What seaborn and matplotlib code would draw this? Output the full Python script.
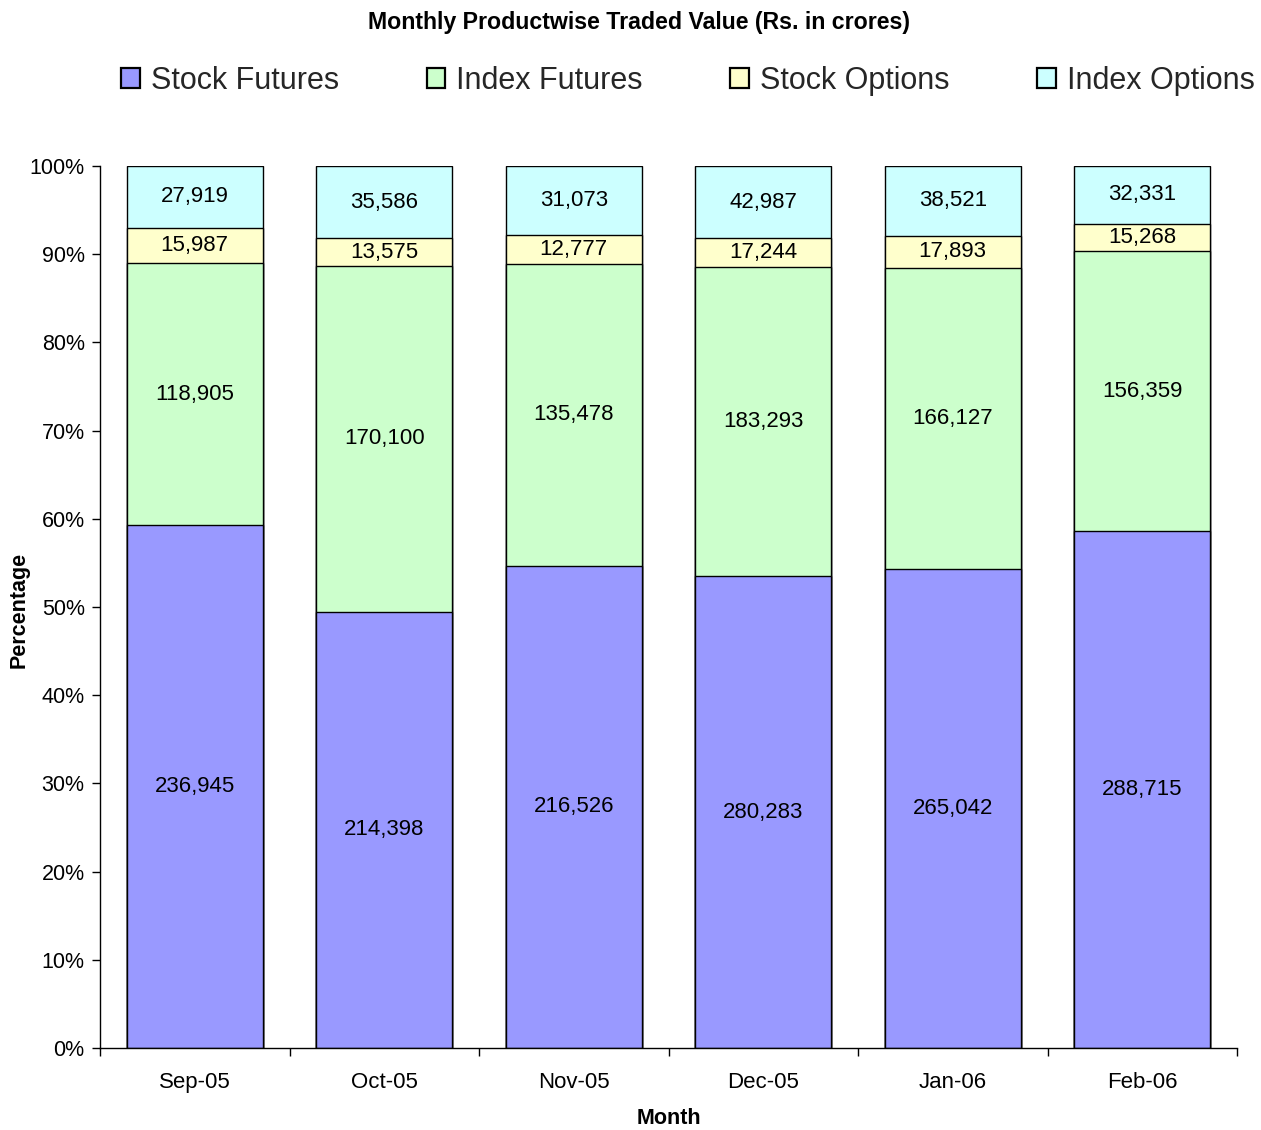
import numpy as np
import pandas as pd
import matplotlib
matplotlib.use("Agg")
import matplotlib.pyplot as plt
from matplotlib.patches import Patch
from matplotlib.ticker import PercentFormatter, FixedLocator
import seaborn as sns

months = ["Sep-05", "Oct-05", "Nov-05", "Dec-05", "Jan-06", "Feb-06"]
stock_futures = [236945, 214398, 216526, 280283, 265042, 288715]
index_futures = [118905, 170100, 135478, 183293, 166127, 156359]
stock_options = [15987, 13575, 12777, 17244, 17893, 15268]
index_options = [27919, 35586, 31073, 42987, 38521, 32331]

series_names = ["Stock Futures", "Index Futures", "Stock Options", "Index Options"]
series_colors = ["#9999FF", "#CCFFCC", "#FFFFCC", "#CCFFFF"]

sns.set_theme(style="white")
plt.rcParams["font.family"] = ["Liberation Sans", "DejaVu Sans"]

values = np.array([stock_futures, index_futures, stock_options, index_options], dtype=float)
totals = values.sum(axis=0)
shares = values / totals
cum = np.cumsum(shares, axis=0)

df = pd.DataFrame({"Month": months})
for k, name in enumerate(series_names):
    df[name] = cum[k]

fig = plt.figure(figsize=(12.61, 11.30), dpi=100)
ax = fig.add_axes([100 / 1261, 1 - 1048 / 1130, 1137 / 1261, 882 / 1130])

# Stacked bars drawn as overlapping cumulative totals, tallest first
for k in range(len(series_names) - 1, -1, -1):
    sns.barplot(data=df, x="Month", y=series_names[k], order=months,
                color=series_colors[k], saturation=1, width=0.72,
                edgecolor="black", linewidth=1.0, ax=ax)

# Value labels centred in each segment
for k in range(len(series_names)):
    lower = cum[k - 1] if k > 0 else np.zeros(len(months))
    for i in range(len(months)):
        mid = (lower[i] + cum[k][i]) / 2
        ax.text(i, mid, f"{int(values[k][i]):,}", ha="center", va="center",
                fontsize=16, color="black")

ax.set_xlim(-0.5, len(months) - 0.5)
ax.set_ylim(0, 1)
ax.yaxis.set_major_locator(FixedLocator(np.arange(0, 1.01, 0.1)))
ax.yaxis.set_major_formatter(PercentFormatter(1.0, decimals=0))

ax.set_xticks(range(len(months)))
ax.set_xticklabels(months)
ax.set_xticks(np.arange(-0.5, len(months), 1.0), minor=True)
ax.tick_params(axis="x", which="major", length=0, pad=17, labelsize=16,
               labelcolor="black")
ax.tick_params(axis="x", which="minor", length=6, width=1, direction="out",
               color="black", bottom=True)
ax.tick_params(axis="y", which="major", length=6, width=1, direction="out",
               color="black", left=True, labelsize=15.5, pad=5,
               labelcolor="black")

for side in ["top", "right"]:
    ax.spines[side].set_visible(False)
for side in ["left", "bottom"]:
    ax.spines[side].set_color("black")
    ax.spines[side].set_linewidth(1.0)

ax.set_xlabel("Month", fontsize=15.5, fontweight="bold", labelpad=11, color="black")
ax.set_ylabel("Percentage", fontsize=15.5, fontweight="bold", color="black")
ax.yaxis.set_label_coords(-0.0616, 0.497)

fig.text(0.507, 1 - 23 / 1130, "Monthly Productwise Traded Value (Rs. in crores)",
         ha="center", va="center", fontsize=16.7, fontweight="bold", color="black")

handles = [Patch(facecolor=c, edgecolor="black", linewidth=1.6) for c in series_colors]
fig.legend(handles, series_names, loc="center", bbox_to_anchor=(0.5455, 1 - 81 / 1130),
           ncol=4, frameon=False, fontsize=22, handlelength=0.62, handleheight=0.62,
           handletextpad=0.36, columnspacing=2.85, borderpad=0.0, borderaxespad=0.0)

fig.savefig("out.png", dpi=100)
